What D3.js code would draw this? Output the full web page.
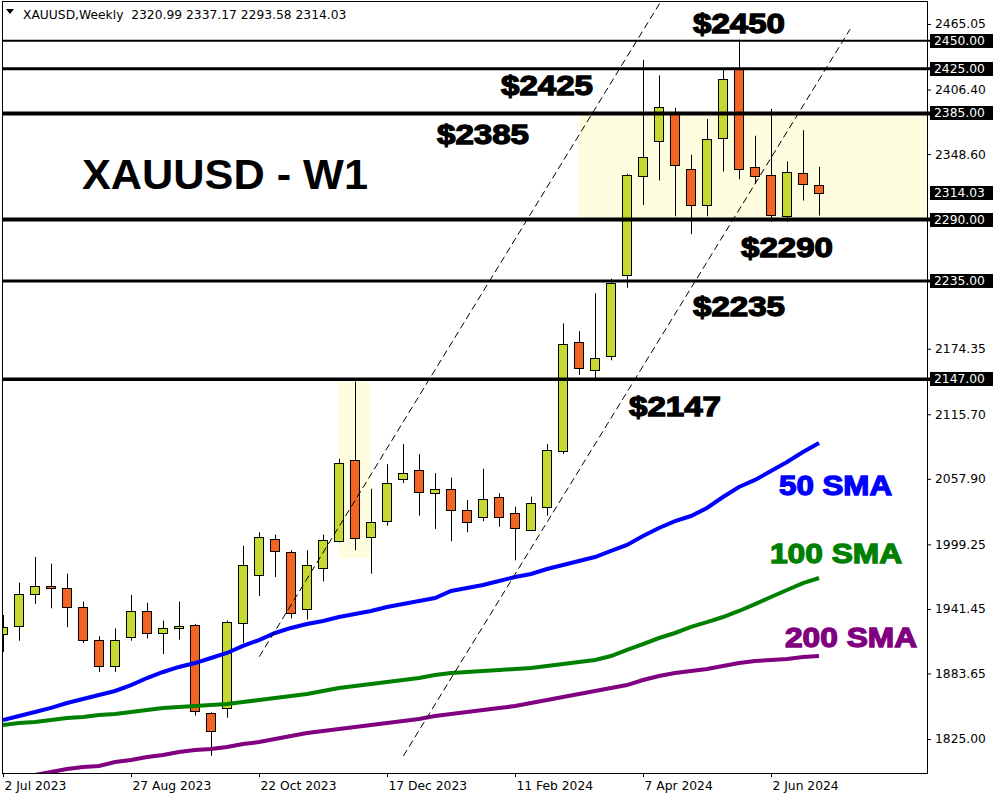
<!DOCTYPE html>
<html><head><meta charset="utf-8">
<script src="https://cdn.jsdelivr.net/npm/d3@7"></script>
<style>body{margin:0;background:#fff}svg{display:block}</style>
</head><body>
<svg id="c" width="1000" height="800"></svg>
<script>
// ---------- DATA ----------
const weeks = ["2023-07-02","2023-07-09","2023-07-16","2023-07-23","2023-07-30","2023-08-06","2023-08-13","2023-08-20","2023-08-27","2023-09-03","2023-09-10","2023-09-17","2023-09-24","2023-10-01","2023-10-08","2023-10-15","2023-10-22","2023-10-29","2023-11-05","2023-11-12","2023-11-19","2023-11-26","2023-12-03","2023-12-10","2023-12-17","2023-12-24","2023-12-31","2024-01-07","2024-01-14","2024-01-21","2024-01-28","2024-02-04","2024-02-11","2024-02-18","2024-02-25","2024-03-03","2024-03-10","2024-03-17","2024-03-24","2024-03-31","2024-04-07","2024-04-14","2024-04-21","2024-04-28","2024-05-05","2024-05-12","2024-05-19","2024-05-26","2024-06-02","2024-06-09","2024-06-16","2024-06-23"];
const open  = [1919,1926,1955,1962,1960,1943,1914,1890,1916,1940,1920,1924,1927,1848,1853,1929,1972,2004,1992,1941,1978,2002,2075,2006,2020,2058,2066,2045,2049,2030,2024,2042,2027,2012,2033,2083,2180,2155,2168,2240,2329,2360,2385,2335,2303,2363,2425,2337,2330,2293,2332,2320.99];
const high  = [1936,1965,1988,1982,1973,1948,1917,1924,1954,1947,1931,1948,1928,1849,1931,1998,2010,2008,1994,1994,2008,2076,2145,2049,2071,2089,2080,2063,2059,2039,2067,2045,2033,2042,2089,2197,2190,2224,2237,2331,2433,2419,2390,2348,2380,2424,2451,2365,2389,2342,2370,2337.17];
const low   = [1903,1913,1946,1942,1925,1911,1885,1885,1913,1915,1901,1914,1846,1810,1844,1911,1953,1970,1933,1932,1966,2001,1994,1973,2016,2054,2025,2013,2002,2010,2020,2015,1985,2011,2025,2080,2151,2148,2164,2229,2303,2325,2293,2277,2293,2333,2326,2322,2288,2288,2307,2293.58];
const close = [1925,1955,1962,1960,1943,1914,1890,1914,1940,1920,1924,1926,1850,1832,1930,1981,2006,1993,1938,1981,2003,2072,2005,2019,2054,2063,2046,2049,2030,2019,2040,2024,2014,2036,2084,2179,2157,2166,2233,2330,2346,2391,2339,2303,2362,2416,2335,2329,2294,2333,2322,2314.03];
const sma50  = [1842,1845.6,1849.2,1852.8,1857.2,1860.8,1864.4,1868,1873.3,1879.6,1885,1889.5,1893,1897.5,1902,1908.3,1913.6,1919.9,1924.4,1928,1930.6,1934.2,1936.9,1939.6,1943.2,1945.8,1948.5,1951.2,1957.5,1960.2,1962.9,1966.4,1970,1972.7,1977.2,1980.8,1984.3,1987.9,1993.3,1998.7,2006.7,2013.9,2020.1,2024.6,2031.8,2041.6,2050.6,2056.9,2064.9,2073,2081.9,2090];
const sma100 = [1837.5,1839.3,1840.2,1842,1843.8,1844.7,1846.5,1847.4,1849.2,1851,1852.8,1853.6,1854.5,1855.4,1856.3,1858.1,1859.9,1861.7,1863.5,1865.3,1868,1870.7,1872.5,1874.2,1876,1877.8,1879.6,1882.3,1884.1,1885,1885.9,1886.8,1887.7,1888.6,1890.3,1892.1,1893.9,1895.7,1899.3,1904.7,1910,1915.4,1919.9,1925.3,1929.7,1934.2,1939.6,1945.8,1952.1,1958.4,1964.6,1969.1];
const sma200 = [1787.4,1790.1,1792.8,1795.5,1798.1,1799.9,1800.8,1804.4,1806.2,1808.9,1810.7,1813.4,1815.2,1816,1817.8,1820.5,1822.3,1825,1827.7,1830.4,1832.2,1834,1835.7,1837.5,1839.3,1841.1,1842.9,1845.6,1847.4,1849.2,1851,1852.8,1854.5,1857.2,1859.9,1862.6,1865.3,1868,1870.7,1873.3,1877.8,1881.4,1884.1,1885.9,1887.7,1890.3,1893,1894.8,1895.7,1896.6,1898.4,1899.3];
const levels = [2450, 2425, 2385, 2290, 2235, 2147];
const levelLabels = ["$2450","$2425","$2385","$2290","$2235","$2147"];
const priceBoxes = [2450, 2425, 2385, 2314.03, 2290, 2235, 2147];
const yTicks = [2465.05, 2406.40, 2348.60, 2174.35, 2115.70, 2057.90, 1999.25, 1941.45, 1883.65, 1825.00];
const xTickIdx = [0, 8, 16, 24, 32, 40, 48];
const xTickLabels = ["2 Jul 2023","27 Aug 2023","22 Oct 2023","17 Dec 2023","11 Feb 2024","7 Apr 2024","2 Jun 2024"];
const zoneStart = [36, 21], zoneEnd = [null, 23], zoneTop = [2385, 2145], zoneBottom = [2290, 1987];
const channelUpper = [[16.02, 1898.7], [42.0, 2505.9]];
const channelLower = [[25.02, 1809.8], [52.94, 2460.3]];
const header = "XAUUSD,Weekly  2320.99 2337.17 2293.58 2314.03";

// ---------- LAYOUT ----------
const L = 3, R = 927, T = 2, B = 773;
const x = d3.scaleLinear().domain([0, 51]).range([3, 819]);
const y = d3.scaleLinear().domain([1825, 2465.05]).range([739, 24]);
const svg = d3.select("#c");
svg.append("defs").append("clipPath").attr("id", "plot")
  .append("rect").attr("x", L).attr("y", T).attr("width", R - L).attr("height", B - T);
const g = svg.append("g").attr("clip-path", "url(#plot)");

// highlight zones
zoneStart.forEach((s, k) => {
  const x0 = x(s), x1 = zoneEnd[k] == null ? R : x(zoneEnd[k]);
  g.append("rect").attr("x", x0).attr("y", y(zoneTop[k])).attr("width", x1 - x0)
    .attr("height", y(zoneBottom[k]) - y(zoneTop[k])).attr("fill", "#fefde0");
});

// candles
const candles = weeks.map((w, i) => ({ i, o: open[i], h: high[i], l: low[i], c: close[i] }));
const cg = g.append("g");
cg.selectAll("line.wick").data(candles).join("line").attr("class", "wick")
  .attr("x1", d => Math.round(x(d.i)) + 0.5).attr("x2", d => Math.round(x(d.i)) + 0.5)
  .attr("y1", d => y(d.h)).attr("y2", d => y(d.l)).attr("stroke", "#000").attr("stroke-width", 1);
cg.selectAll("rect.body").data(candles).join("rect").attr("class", "body")
  .attr("x", d => Math.round(x(d.i)) - 4.5).attr("width", 9)
  .attr("y", d => Math.round(y(Math.max(d.o, d.c))) + 0.5)
  .attr("height", d => Math.max(1, Math.round(y(Math.min(d.o, d.c))) - Math.round(y(Math.max(d.o, d.c)))))
  .attr("fill", d => d.c >= d.o ? "#c3d830" : "#f26424").attr("stroke", "#000").attr("stroke-width", 1);

// SMAs
const line = d3.line().x((d, i) => x(i)).y(d => y(d));
[[sma200, "#800080"], [sma100, "#008000"], [sma50, "#0000ff"]].forEach(([s, col]) => {
  g.append("path").attr("d", line(s)).attr("fill", "none").attr("stroke", col).attr("stroke-width", 4);
});

// channel lines
[channelUpper, channelLower].forEach(ch => {
  g.append("line").attr("x1", x(ch[0][0])).attr("y1", y(ch[0][1])).attr("x2", x(ch[1][0])).attr("y2", y(ch[1][1]))
    .attr("stroke", "#000").attr("stroke-width", 1).attr("stroke-dasharray", "7,4");
});

// level lines
const levelW = [2, 3, 4, 4, 3, 3.5];
levels.forEach((v, k) => {
  svg.append("line").attr("x1", L).attr("x2", 931).attr("y1", y(v)).attr("y2", y(v))
    .attr("stroke", "#000").attr("stroke-width", levelW[k]);
});

// frame
svg.append("rect").attr("x", L - 0.5).attr("y", T - 0.5).attr("width", R - L + 1).attr("height", B - T + 1)
  .attr("fill", "none").attr("stroke", "#000").attr("stroke-width", 1);

// annotations
const bigFont = "'Liberation Sans', Arial, sans-serif";
const lvlPos = [[693, 33], [501, 95], [437, 144], [741, 256.5], [693, 315.5], [629, 415.5]];
levelLabels.forEach((t, k) => {
  svg.append("text").attr("x", lvlPos[k][0]).attr("y", lvlPos[k][1]).text(t)
    .attr("font-family", bigFont).attr("font-weight", "bold").attr("font-size", 28)
    .attr("textLength", 92).attr("lengthAdjust", "spacingAndGlyphs")
    .attr("fill", "#000").attr("stroke", "#000").attr("stroke-width", 1.3);
});
svg.append("text").attr("x", 82).attr("y", 189).text("XAUUSD - W1")
  .attr("font-family", bigFont).attr("font-weight", "bold").attr("font-size", 42)
  .attr("textLength", 286).attr("lengthAdjust", "spacingAndGlyphs").attr("fill", "#000");
[["50 SMA", 779, 495, 113, "#0000ff"], ["100 SMA", 770, 563, 132, "#008000"], ["200 SMA", 785, 646.5, 132, "#800080"]]
  .forEach(([t, xx, yy, w, col]) => {
    svg.append("text").attr("x", xx).attr("y", yy).text(t)
      .attr("font-family", bigFont).attr("font-weight", "bold").attr("font-size", 28)
      .attr("textLength", w).attr("lengthAdjust", "spacingAndGlyphs")
      .attr("fill", col).attr("stroke", col).attr("stroke-width", 1.3);
  });

// axes
const axFont = "'DejaVu Sans', Verdana, sans-serif";
const ya = svg.append("g").attr("transform", `translate(${R},0)`)
  .call(d3.axisRight(y).tickValues(yTicks).tickSize(4).tickFormat(d3.format(".2f")));
ya.select(".domain").remove();
ya.selectAll("text").attr("font-family", axFont).attr("font-size", 12.3).attr("fill", "#000").attr("x", 8);
ya.selectAll("line").attr("stroke", "#000");
svg.append("line").attr("x1", R + 0.5).attr("x2", R + 0.5).attr("y1", T).attr("y2", B).attr("stroke", "#000");

const xa = svg.append("g").attr("transform", `translate(0,${B})`)
  .call(d3.axisBottom(x).tickValues(xTickIdx).tickSize(4).tickFormat((d, k) => xTickLabels[k]));
xa.select(".domain").remove();
xa.selectAll("text").attr("font-family", axFont).attr("font-size", 12.3).attr("fill", "#000")
  .attr("text-anchor", "start").attr("dx", 1).attr("y", 8);
xa.selectAll("line").attr("stroke", "#000");

// price boxes
priceBoxes.forEach(v => {
  const yy = Math.round(y(v));
  svg.append("rect").attr("x", 930).attr("y", yy - 7).attr("width", 63).attr("height", 14).attr("fill", "#000");
  svg.append("text").attr("x", 934).attr("y", yy).attr("dy", "0.35em").text(d3.format(".2f")(v))
    .attr("font-family", axFont).attr("font-size", 12.3).attr("fill", "#fff");
});

// header
svg.append("path").attr("d", "M6,9 L14,9 L10,14 Z").attr("fill", "#000");
svg.append("text").attr("x", 23).attr("y", 19).text(header)
  .attr("font-family", axFont).attr("font-size", 12.3).attr("fill", "#000").attr("xml:space", "preserve")
  .style("white-space", "pre");
</script>
</body></html>
